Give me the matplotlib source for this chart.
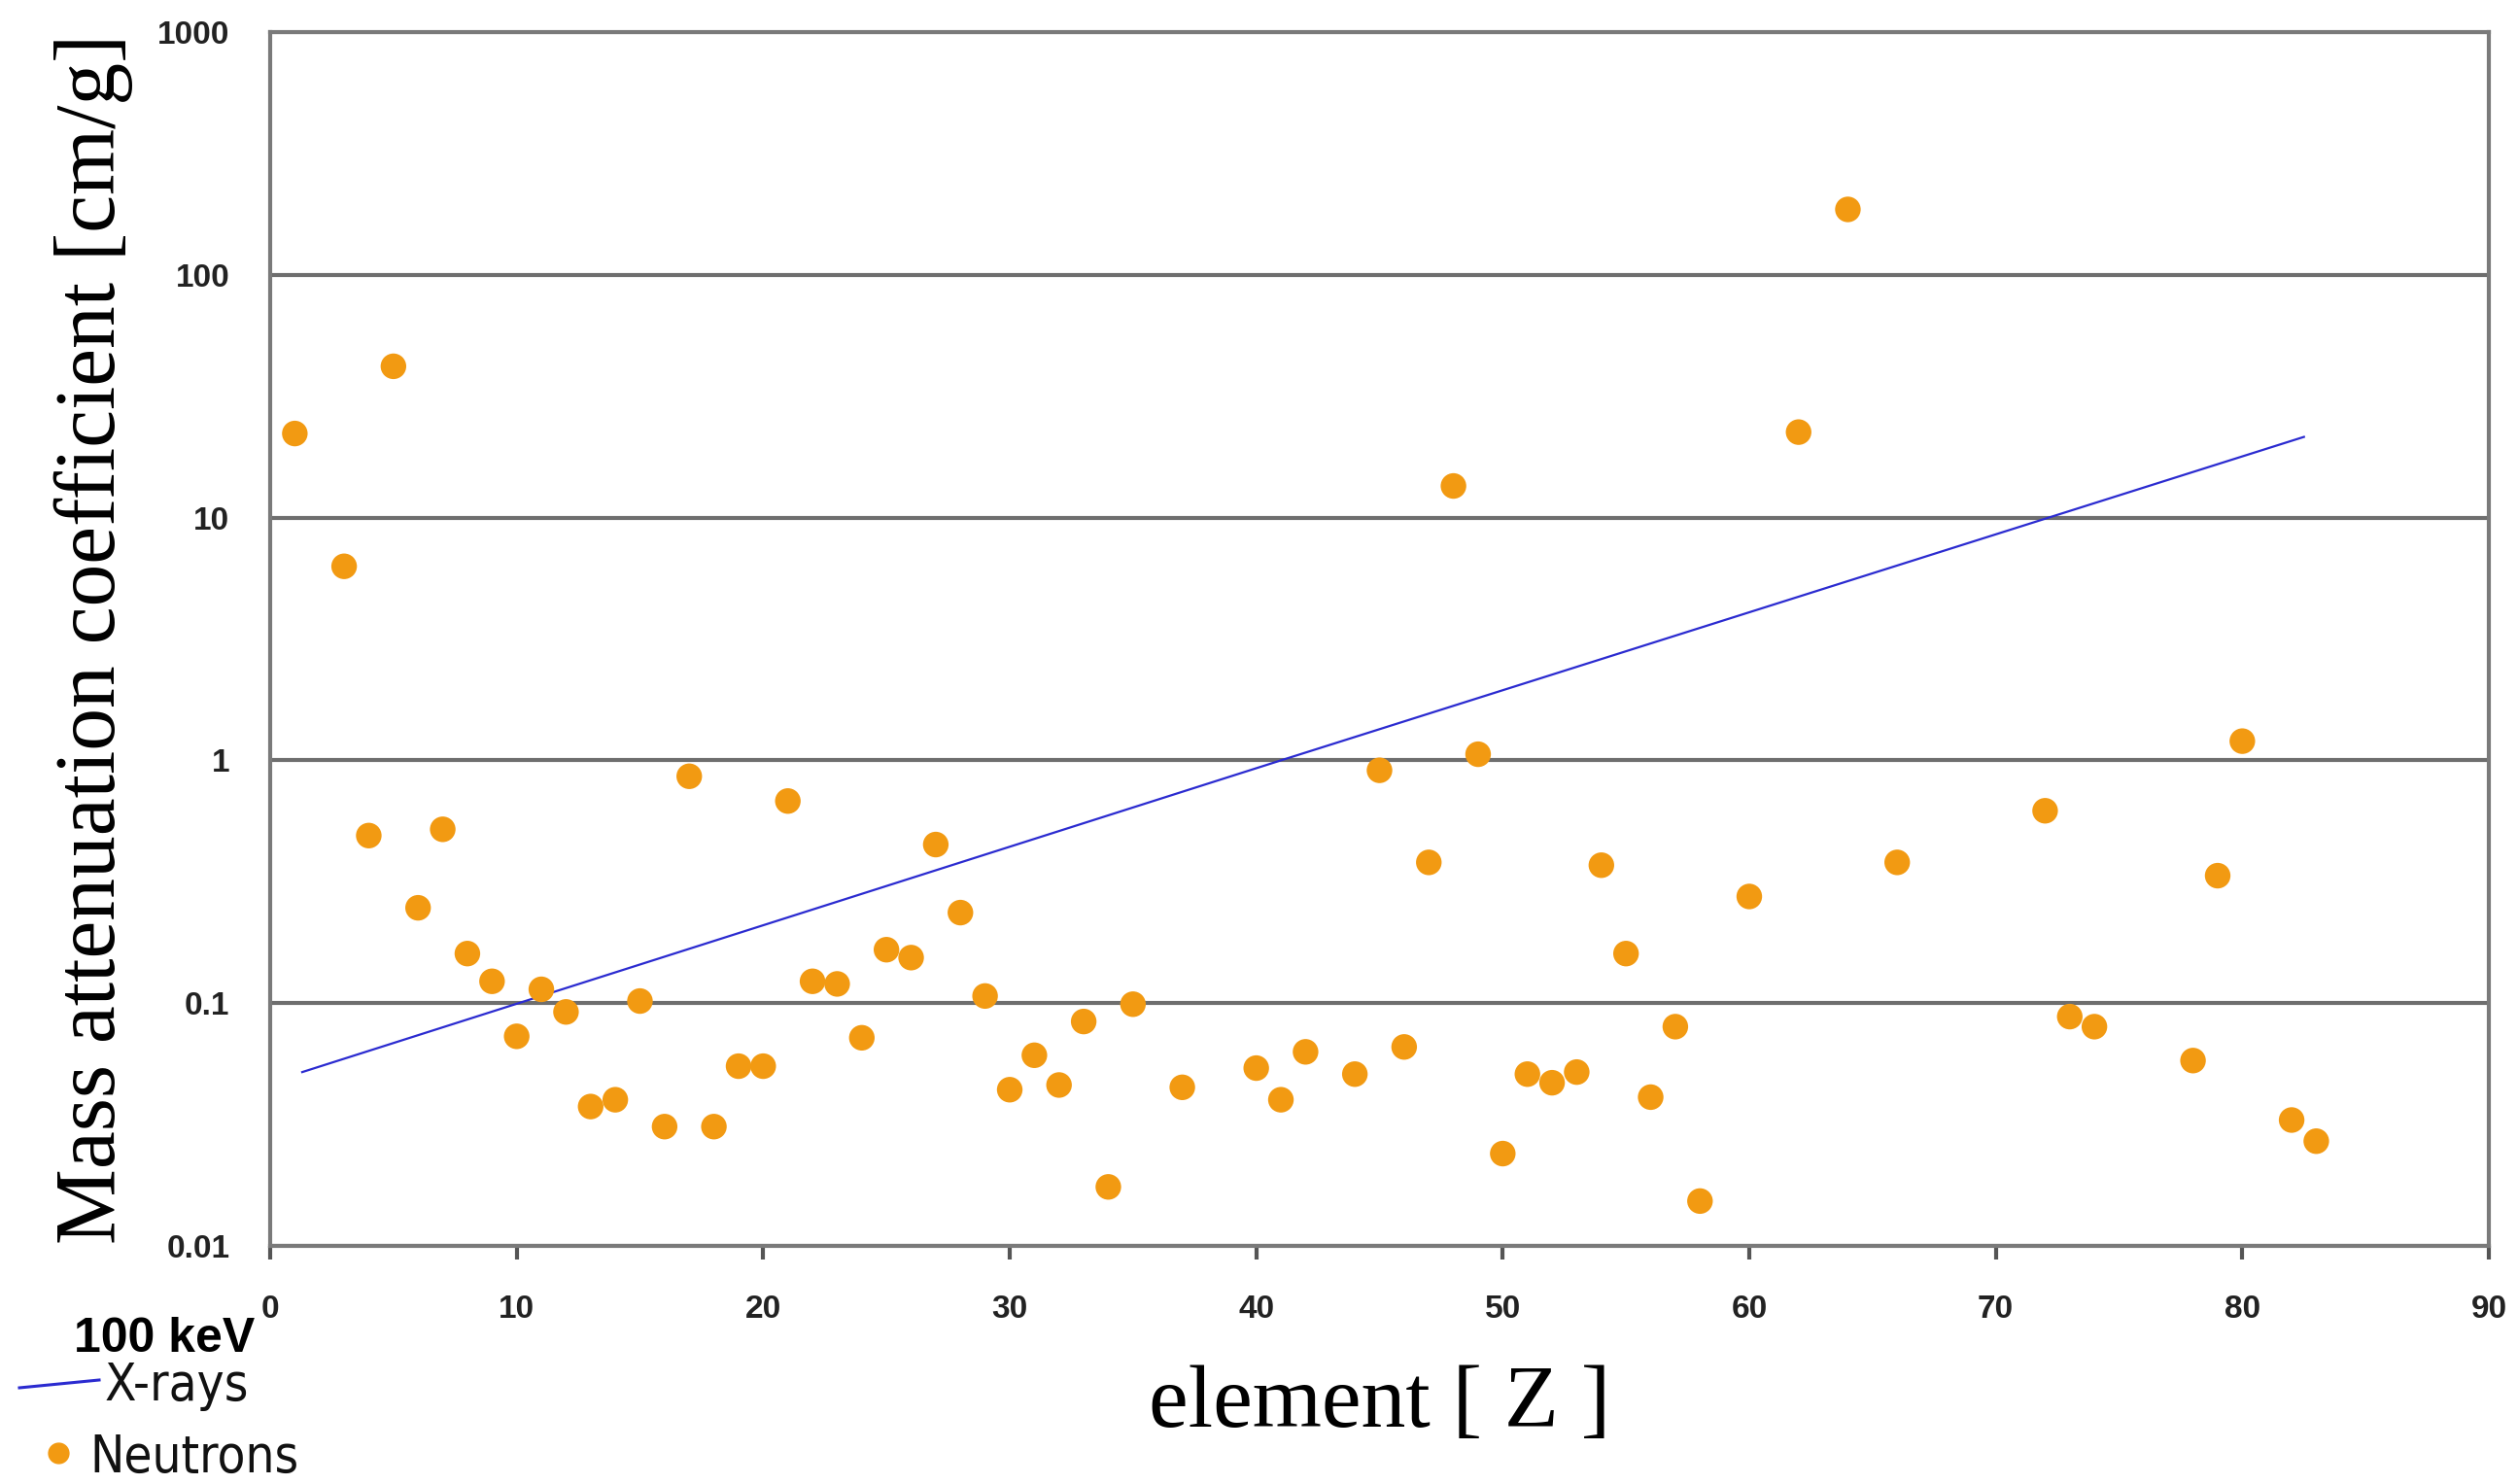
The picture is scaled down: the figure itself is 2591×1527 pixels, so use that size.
from matplotlib import pyplot as plt
import numpy as np

# x-ray line (100 keV), read at the ends and where it crosses 1
xray_z = [1.3, 41, 82.5]
xray_mu = [0.052, 1.0, 21.5]

# neutron points, element Z and coefficient
neutron_z = [1, 3, 4, 5, 6, 7, 8, 9, 10, 11, 12, 13, 14, 15, 16, 17, 18, 19, 20,
             21, 22, 23, 24, 25, 26, 27, 28, 29, 30, 31, 32, 33, 34, 35, 37, 40,
             41, 42, 44, 45, 46, 47, 48, 49, 50, 51, 52, 53, 54, 55, 56, 57, 58,
             60, 62, 64, 66, 72, 73, 74, 78, 79, 80, 82, 83]
neutron_mu = [22.2, 6.3, 0.49, 42, 0.247, 0.52, 0.16, 0.123, 0.073, 0.114, 0.092,
              0.0375, 0.040, 0.102, 0.031, 0.86, 0.031, 0.055, 0.055,
              0.68, 0.123, 0.12, 0.072, 0.166, 0.154, 0.45, 0.236, 0.107, 0.044,
              0.061, 0.046, 0.084, 0.0175, 0.099, 0.045, 0.054,
              0.040, 0.063, 0.051, 0.91, 0.066, 0.38, 13.5, 1.06, 0.024, 0.051,
              0.047, 0.052, 0.37, 0.16, 0.041, 0.080, 0.0153,
              0.275, 22.5, 186, 0.38, 0.62, 0.088, 0.080, 0.058, 0.335, 1.2,
              0.033, 0.027]

fig = plt.figure(figsize=(25.91, 15.27), dpi=100)
ax = fig.add_axes([278 / 2591, 1 - 1282 / 1527, (2561 - 278) / 2591, (1282 - 33) / 1527])

ax.set_yscale('log')
ax.set_xlim(0, 90)
ax.set_ylim(0.01, 1000)

ax.plot(xray_z, xray_mu, color='#2b2bd0', lw=1.6, zorder=3)
ax.scatter(neutron_z, neutron_mu, s=360, color='#f29a12', edgecolors='none', zorder=4)

ax.set_yticks([0.01, 0.1, 1, 10, 100, 1000])
ax.set_yticklabels(['0.01', '0.1', '1', '10', '100', '1000'])
ax.minorticks_off()
ax.set_xticks(range(0, 91, 10))
ax.grid(axis='y', color='#6e6e6e', lw=3.0)
ax.set_axisbelow(True)
for s in ax.spines.values():
    s.set_color('#7a7a7a')
    s.set_linewidth(3.0)

ax.tick_params(axis='y', length=0, pad=30, labelsize=24)
ax.tick_params(axis='x', length=10, width=3, color='#555555', direction='out',
               pad=26, labelsize=24)
for lab in ax.get_xticklabels() + ax.get_yticklabels():
    lab.set_fontweight('bold')
    lab.set_color('#222222')
    lab.set_family('Liberation Sans')

ax.set_ylabel('Mass attenuation coefficient [cm/g]', family='Liberation Serif',
              fontsize=63, labelpad=18)
ax.set_xlabel('element [ Z ]', family='Liberation Serif', fontsize=66, labelpad=30)

# legend drawn by hand at bottom-left, as in the figure
fig.text(76 / 2591, 1 - 1378 / 1527, '100 keV', family='Liberation Sans',
         fontweight='bold', fontsize=36, va='center', ha='left')
fig.add_artist(plt.Line2D([20 / 2591, 102 / 2591], [1 - 1428 / 1527, 1 - 1420 / 1527],
                          color='#2b2bd0', lw=2.2))
fig.text(108 / 2591, 1 - 1426 / 1527, 'X-rays', family='DejaVu Sans',
         stretch='condensed', fontsize=38, va='center', ha='left', color='#111111')
fig.add_artist(plt.Line2D([60 / 2591], [1 - 1495 / 1527], marker='o', markersize=15,
                          color='#f29a12', lw=0))
fig.text(92 / 2591, 1 - 1500 / 1527, 'Neutrons', family='DejaVu Sans',
         stretch='condensed', fontsize=38, va='center', ha='left', color='#111111')

fig.savefig('out.png', dpi=100)
